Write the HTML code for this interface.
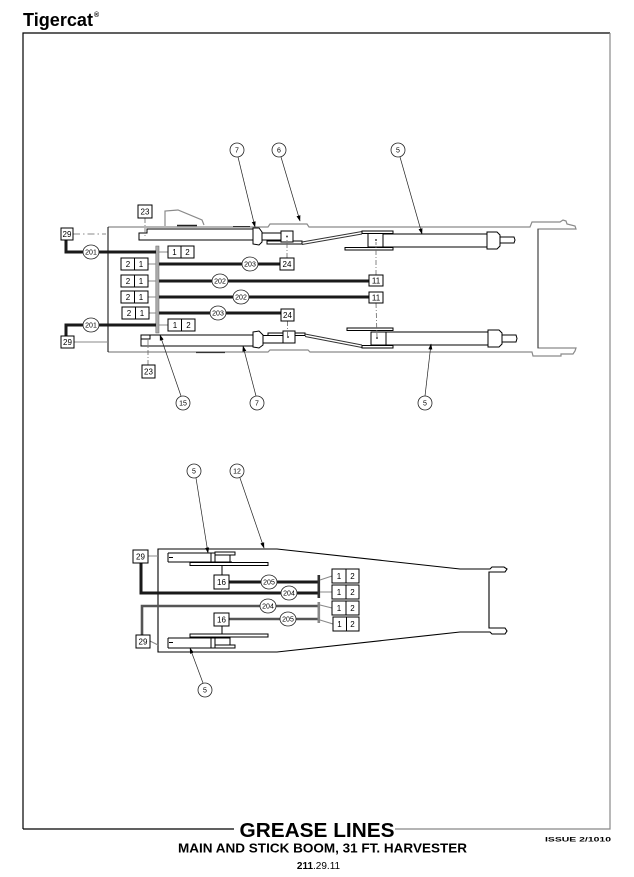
<!DOCTYPE html>
<html><head><meta charset="utf-8"><style>
html,body{margin:0;padding:0;background:#fff;}
svg{display:block;}
text{font-family:"Liberation Sans",Arial,sans-serif;fill:#000;}
.bx{fill:#fff;stroke:#000;stroke-width:1;}
.bt{font-size:8px;text-anchor:middle;}
.cc{fill:#fff;stroke:#222;stroke-width:0.8;}
.ct{font-size:7px;text-anchor:middle;}
.ld{fill:none;stroke:#222;stroke-width:0.7;}
.dd{fill:none;stroke:#666;stroke-width:0.8;stroke-dasharray:5,2,1,2;}
.ol{fill:none;stroke:#8a8a8a;stroke-width:1.2;}
.k{fill:none;stroke:#000;stroke-width:1;}
.kf{fill:#fff;stroke:#000;stroke-width:1;}
.th{fill:none;stroke:#1a1a1a;stroke-width:3;}
.tg{fill:none;stroke:#555;stroke-width:2.6;}
.gl{fill:none;stroke:#888;stroke-width:1;}
</style></head><body>
<svg width="634" height="877" viewBox="0 0 634 877" xmlns="http://www.w3.org/2000/svg">
<defs>
<marker id="ar" markerWidth="6" markerHeight="6" refX="5.5" refY="3" orient="auto" markerUnits="userSpaceOnUse">
<path d="M0,1 L6,3 L0,5 z" fill="#000"/>
</marker>
</defs>
<rect width="634" height="877" fill="#fff"/>

<!-- Header -->
<text x="23" y="26" font-size="18" font-weight="bold" textLength="70" lengthAdjust="spacingAndGlyphs">Tigercat</text>
<text x="94" y="17" font-size="7" font-weight="bold">®</text>

<!-- Frame -->
<path d="M23,829 V33 H610" fill="none" stroke="#000" stroke-width="1.2"/>
<path d="M610,33 V829 H395" fill="none" stroke="#888" stroke-width="1.2"/>
<path d="M23,829 H234" fill="none" stroke="#000" stroke-width="1.2"/>

<!-- Titles -->
<text x="317" y="837" font-size="20.5" font-weight="bold" text-anchor="middle" textLength="155" lengthAdjust="spacingAndGlyphs">GREASE LINES</text>
<text x="322.5" y="852.5" font-size="13" font-weight="bold" text-anchor="middle" textLength="289" lengthAdjust="spacingAndGlyphs">MAIN AND STICK BOOM, 31 FT. HARVESTER</text>
<text x="318.5" y="869" font-size="10" text-anchor="middle"><tspan font-weight="bold">211</tspan>.29.11</text>
<text x="545" y="841.5" font-size="6.8" font-weight="bold" textLength="66" lengthAdjust="spacingAndGlyphs">ISSUE 2/1010</text>

<!-- ================= UPPER DIAGRAM ================= -->
<path class="ol" d="M108,227 H268 L270,224 H307 L309,227 H530 L532,222 H560 L563,220 L566,221 L567,224 L575,226 L576,229 H538 V348 H576 L575,351 L573,354 H561 V356 H533 L532,352 H310 L308,350 H270 L268,352 H108"/>
<path d="M538,229 V348" stroke="#333" stroke-width="1" fill="none"/>
<path d="M108,227 V352" class="k"/>
<path d="M177,225.5 H197" stroke="#222" stroke-width="1.6" fill="none"/>
<path d="M233,226.5 H250" stroke="#333" stroke-width="1" fill="none"/>
<path class="ol" d="M165,226 V211 L178,210 L202,220 L204,225" stroke="#888"/>
<path d="M196,352.5 H225" stroke="#333" stroke-width="1.3" fill="none"/>

<path d="M73,234 H106" fill="none" stroke="#888" stroke-width="0.9" stroke-dasharray="7,3,1.5,3"/>
<path d="M74,342 H108" class="gl"/>

<!-- Upper cylinder 7 -->
<path class="kf" d="M139,233 H147 V229 H253 V240 H139 Z"/>
<path class="kf" d="M253,228 L259,228 L262,232 L262,242 L259,245 L253,244 Z"/>
<rect class="kf" x="262" y="233" width="19" height="7"/>
<rect class="kf" x="267" y="241" width="35" height="3"/>
<rect class="kf" x="281" y="231" width="12" height="11"/>
<circle cx="287" cy="236.5" r="1" fill="#444"/>
<path d="M302,242 L362,231.5 M302,244.5 L362,234" fill="none" stroke="#333" stroke-width="0.9"/>
<rect class="kf" x="383" y="234" width="104" height="13"/>
<rect class="kf" x="362" y="231" width="31" height="2.5"/>
<rect class="kf" x="345" y="247.5" width="48" height="2.5"/>
<rect class="kf" x="368" y="233.5" width="15" height="13.5"/>
<circle cx="376" cy="240" r="1" fill="#444"/>
<path class="kf" d="M487,232 L497,232 L500,235 L500,246 L497,249 L487,249 Z"/>
<path class="kf" d="M500,237 H514 L515,240 L514,243 H500 Z"/>

<!-- Lower cylinder 7 -->
<path class="kf" d="M141,335 H253 V346 H141 Z"/>
<path d="M141,339 H150 V335" class="k"/>
<path class="kf" d="M253,332 L259,331 L263,335 L263,345 L259,348 L253,347 Z"/>
<rect class="kf" x="263" y="335.5" width="20" height="7.5"/>
<rect class="kf" x="268" y="333" width="37" height="2.5"/>
<rect class="kf" x="283" y="331" width="12" height="12"/>
<circle cx="288" cy="337" r="1" fill="#444"/>
<path d="M305,334 L362,345 M305,336.5 L362,347.5" fill="none" stroke="#333" stroke-width="0.9"/>
<rect class="kf" x="386" y="332" width="102" height="13"/>
<rect class="kf" x="347" y="328" width="46" height="2.5"/>
<rect class="kf" x="362" y="345.5" width="31" height="2.5"/>
<rect class="kf" x="371" y="332" width="15" height="13"/>
<circle cx="377" cy="338" r="1" fill="#444"/>
<path class="kf" d="M488,330 L499,330 L502,333 L502,344 L499,347 L488,347 Z"/>
<path class="kf" d="M502,335 H516 L517,338.5 L516,342 H502 Z"/>

<!-- dash-dot leaders -->
<path class="dd" d="M145,218 V238"/>
<path class="dd" d="M148,365 V339"/>
<path class="dd" d="M287,258 V238"/>
<path class="dd" d="M287.5,321 V337"/>
<path class="dd" d="M376,275 V242"/>
<path class="dd" d="M376,303 L377,337"/>

<!-- manifold 15 -->
<rect x="155.8" y="246" width="3.2" height="87" fill="#aaa" stroke="#666" stroke-width="0.5"/>

<path class="gl" d="M148,264 H156 M148,281 H156 M148,297 H156 M149,313 H156 M159,252 H168 M159,325 H168"/>

<!-- thick grease lines -->
<path class="th" d="M66,240 V252 H156"/>
<path class="th" d="M159,264 H280"/>
<path class="th" d="M159,281 H369"/>
<path class="th" d="M159,297 H369"/>
<path class="th" d="M159,313 H281"/>
<path class="th" d="M66,336 V325 H156"/>

<!-- boxes upper -->
<rect class="bx" x="61" y="228" width="12" height="12"/><text class="bt" x="67" y="237">29</text>
<rect class="bx" x="61" y="336" width="13" height="12"/><text class="bt" x="67.5" y="345">29</text>
<rect class="bx" x="138" y="205" width="14" height="13"/><text class="bt" x="145" y="214.5">23</text>
<rect class="bx" x="142" y="365" width="13" height="13"/><text class="bt" x="148.5" y="374.5">23</text>
<rect class="bx" x="280" y="258" width="14" height="12"/><text class="bt" x="287" y="267">24</text>
<rect class="bx" x="281" y="309" width="13" height="12"/><text class="bt" x="287.5" y="318">24</text>
<rect class="bx" x="369" y="275" width="14" height="11"/><text class="bt" x="376" y="283.5">11</text>
<rect class="bx" x="369" y="292" width="14" height="11"/><text class="bt" x="376" y="300.5">11</text>

<g>
<rect class="bx" x="121" y="258" width="27" height="12"/><path class="k" d="M134.5,258 V270"/><text class="bt" x="128" y="267">2</text><text class="bt" x="141" y="267">1</text>
<rect class="bx" x="121" y="275" width="27" height="12"/><path class="k" d="M134.5,275 V287"/><text class="bt" x="128" y="284">2</text><text class="bt" x="141" y="284">1</text>
<rect class="bx" x="121" y="291" width="27" height="12"/><path class="k" d="M134.5,291 V303"/><text class="bt" x="128" y="300">2</text><text class="bt" x="141" y="300">1</text>
<rect class="bx" x="122" y="307" width="27" height="12"/><path class="k" d="M135.5,307 V319"/><text class="bt" x="129" y="316">2</text><text class="bt" x="142" y="316">1</text>
</g>
<rect class="bx" x="168" y="246" width="26" height="12"/><path class="k" d="M181,246 V258"/><text class="bt" x="174.5" y="255">1</text><text class="bt" x="187.5" y="255">2</text>
<rect class="bx" x="168" y="319" width="27" height="12"/><path class="k" d="M181.5,319 V331"/><text class="bt" x="175" y="328">1</text><text class="bt" x="188.5" y="328">2</text>

<ellipse class="cc" cx="91" cy="252" rx="8" ry="7"/><text class="ct" x="91" y="254.5">201</text>
<ellipse class="cc" cx="91" cy="325" rx="8" ry="7"/><text class="ct" x="91" y="327.5">201</text>
<ellipse class="cc" cx="250" cy="264" rx="8" ry="7"/><text class="ct" x="250" y="266.5">203</text>
<ellipse class="cc" cx="220" cy="281" rx="8" ry="7"/><text class="ct" x="220" y="283.5">202</text>
<ellipse class="cc" cx="241" cy="297" rx="8" ry="7"/><text class="ct" x="241" y="299.5">202</text>
<ellipse class="cc" cx="218" cy="313" rx="8" ry="7"/><text class="ct" x="218" y="315.5">203</text>

<path class="ld" d="M238,157 L255,227" marker-end="url(#ar)"/>
<path class="ld" d="M281,157 L300,221" marker-end="url(#ar)"/>
<path class="ld" d="M400,157 L422,234" marker-end="url(#ar)"/>
<path class="ld" d="M181,396 L160,335" marker-end="url(#ar)"/>
<path class="ld" d="M256,396 L243,346" marker-end="url(#ar)"/>
<path class="ld" d="M425,396 L431,344" marker-end="url(#ar)"/>
<circle class="cc" cx="237" cy="150" r="7"/><text class="ct" x="237" y="152.5">7</text>
<circle class="cc" cx="279" cy="150" r="7"/><text class="ct" x="279" y="152.5">6</text>
<circle class="cc" cx="398" cy="150" r="7"/><text class="ct" x="398" y="152.5">5</text>
<circle class="cc" cx="183" cy="403" r="7"/><text class="ct" x="183" y="405.5">15</text>
<circle class="cc" cx="257" cy="403" r="7"/><text class="ct" x="257" y="405.5">7</text>
<circle class="cc" cx="425" cy="403" r="7"/><text class="ct" x="425" y="405.5">5</text>

<!-- ================= LOWER DIAGRAM ================= -->
<path d="M158,549 H277 L460,569 H490 L492,567 H504 L507,569 L505,572 H489 V628 H505 L507,631 L505,634 H492 L490,632 H460 L277,652 H158 Z" fill="none" stroke="#000" stroke-width="1.1"/>

<path class="k" d="M168,553 H215 M168,562 H232 M168,553 V562 M211,553 V562 M169,557.5 H173"/>
<rect class="kf" x="215" y="552" width="20" height="3"/>
<rect class="kf" x="215" y="555" width="15" height="7"/>
<rect class="kf" x="190" y="562.5" width="78" height="3"/>
<path class="k" d="M222,575 V566"/>

<rect class="kf" x="190" y="634" width="78" height="3"/>
<path class="k" d="M168,638 H215 M168,648 H232 M168,638 V648 M211,638 V648 M169,642.5 H173"/>
<rect class="kf" x="215" y="638" width="15" height="7"/>
<rect class="kf" x="215" y="645" width="20" height="3"/>
<path class="k" d="M222,626 V634"/>

<path class="gl" d="M148,556 H158 M150,641 L158,645" stroke="#444"/>

<path class="th" d="M141,563 V593 H318" stroke-width="3.3"/>
<path class="th" d="M229,582 H318"/>
<path class="tg" d="M142,635 V606 H318"/>
<path class="tg" d="M229,619 H318"/>

<rect x="317.5" y="575" width="2.6" height="23" fill="#333"/>
<rect x="317.5" y="602" width="2.6" height="21" fill="#888"/>
<path class="gl" d="M320,580 L332,576 M320,592 H332 M320,605 L332,608 M320,620 L333,624" stroke="#666"/>

<rect class="bx" x="332" y="569" width="27" height="14"/><path class="k" d="M346,569 V583"/><text class="bt" x="339" y="579">1</text><text class="bt" x="352.5" y="579">2</text>
<rect class="bx" x="332" y="585" width="27" height="14"/><path class="k" d="M346,585 V599"/><text class="bt" x="339" y="595">1</text><text class="bt" x="352.5" y="595">2</text>
<rect class="bx" x="332" y="601" width="27" height="14"/><path class="k" d="M346,601 V615"/><text class="bt" x="339" y="611">1</text><text class="bt" x="352.5" y="611">2</text>
<rect class="bx" x="333" y="617" width="26" height="14"/><path class="k" d="M346.5,617 V631"/><text class="bt" x="339.5" y="627">1</text><text class="bt" x="352.5" y="627">2</text>

<rect class="bx" x="133" y="550" width="15" height="13"/><text class="bt" x="140.5" y="559.5">29</text>
<rect class="bx" x="136" y="635" width="14" height="13"/><text class="bt" x="143" y="644.5">29</text>
<rect class="bx" x="214" y="575" width="15" height="14"/><text class="bt" x="221.5" y="585">16</text>
<rect class="bx" x="214" y="613" width="15" height="13"/><text class="bt" x="221.5" y="622.5">16</text>

<ellipse class="cc" cx="269" cy="582" rx="8" ry="7"/><text class="ct" x="269" y="584.5">205</text>
<ellipse class="cc" cx="289" cy="593" rx="8" ry="7"/><text class="ct" x="289" y="595.5">204</text>
<ellipse class="cc" cx="268" cy="606" rx="8" ry="7"/><text class="ct" x="268" y="608.5">204</text>
<ellipse class="cc" cx="288" cy="619" rx="8" ry="7"/><text class="ct" x="288" y="621.5">205</text>

<path class="ld" d="M196,478 L208,553" marker-end="url(#ar)"/>
<path class="ld" d="M240,478 L264,548" marker-end="url(#ar)"/>
<path class="ld" d="M203,683 L190,648" marker-end="url(#ar)"/>
<circle class="cc" cx="194" cy="471" r="7"/><text class="ct" x="194" y="473.5">5</text>
<circle class="cc" cx="237" cy="471" r="7"/><text class="ct" x="237" y="473.5">12</text>
<circle class="cc" cx="205" cy="690" r="7"/><text class="ct" x="205" y="692.5">5</text>
</svg>
</body></html>
